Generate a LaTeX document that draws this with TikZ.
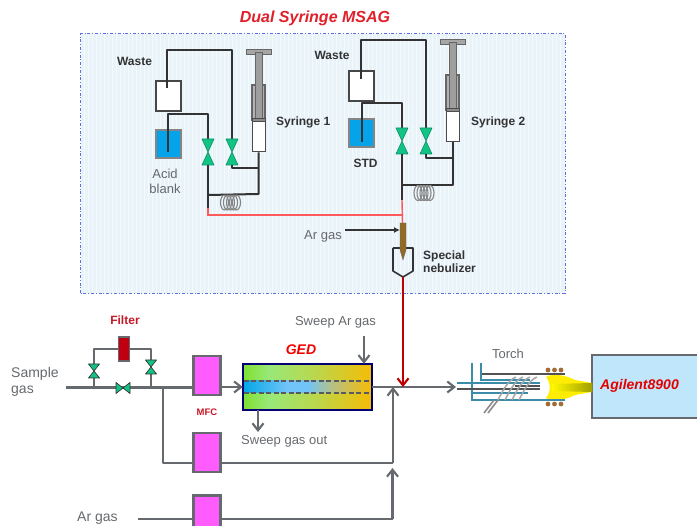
\documentclass[tikz,border=0pt]{standalone}
\usepackage{fontspec}
\setmainfont{Liberation Sans}
\usetikzlibrary{arrows.meta,calc}
\definecolor{tubeK}{HTML}{333333}
\definecolor{tubeG}{HTML}{666A6E}
\definecolor{valveG}{HTML}{12C483}
\definecolor{valveE}{HTML}{0E8F6A}
\definecolor{panelB}{HTML}{E8F3FA}
\definecolor{panelE}{HTML}{5C6FE6}
\definecolor{stdB}{HTML}{05A3EA}
\definecolor{mfcP}{HTML}{FF5CFF}
\definecolor{redT}{HTML}{E0202A}
\definecolor{darkR}{HTML}{C00010}
\definecolor{torchT}{HTML}{3A8CA8}
\definecolor{agB}{HTML}{BFE6FB}
\definecolor{gA}{HTML}{7FE030}
\definecolor{gB}{HTML}{98E878}
\definecolor{gC}{HTML}{B8D850}
\definecolor{gD}{HTML}{F5BC05}
\definecolor{cA}{HTML}{05A8E8}
\definecolor{cB}{HTML}{70C4F8}
\definecolor{cC}{HTML}{B8C080}
\pgfdeclarehorizontalshading{gedbody}{100bp}{color(0bp)=(gA); color(25bp)=(gA); color(35bp)=(gB); color(52bp)=(gC); color(75bp)=(gD); color(100bp)=(gD)}
\pgfdeclarehorizontalshading{gedchan}{100bp}{color(0bp)=(cA); color(25bp)=(cA); color(42bp)=(cB); color(50bp)=(cB); color(60bp)=(cC); color(75bp)=(gD); color(100bp)=(gD)}
\tikzset{
  tube/.style={draw=tubeK,line width=2pt,line join=round},
  gtube/.style={draw=tubeG,line width=2.1pt,line join=round},
  redline/.style={draw=red!65!white,line width=1.4pt},
  barb/.style={-{Straight Barb[length=7pt,width=11pt,line width=2.1pt]}},
  lbl/.style={font=\fontsize{12}{14}\selectfont\bfseries,text=black!80,inner sep=0pt},
  glbl/.style={font=\fontsize{13}{16}\selectfont,text=tubeG,inner sep=0pt},
  boxw/.style={draw=tubeK!90,line width=1.7pt,fill=white,minimum width=25pt,minimum height=30pt,inner sep=0pt},
  boxb/.style={draw=tubeK!60,line width=1.3pt,fill=stdB,minimum width=25pt,minimum height=28pt,inner sep=0pt},
  mfc/.style={draw=tubeG,line width=2.2pt,fill=mfcP,minimum width=27pt,minimum height=39pt,inner sep=0pt},
  valveport/.style={inner sep=0pt,minimum width=12pt,minimum height=26pt},
  valveportH/.style={inner sep=0pt,minimum width=13pt,minimum height=10pt},
  valveportS/.style={inner sep=0pt,minimum width=10pt,minimum height=14pt},
  pics/vvalve/.style={code={
    \draw[fill=valveG,draw=valveE,line width=.6pt,line join=round] (-6,-13)--(6,-13)--(0,0)--cycle (-6,13)--(6,13)--(0,0)--cycle;}},
  pics/svalve/.style={code={
    \draw[fill=valveG,draw=tubeK,line width=.7pt,line join=round] (-5.5,-7)--(5.5,-7)--(0,0)--cycle (-5.5,7)--(5.5,7)--(0,0)--cycle;}},
  pics/hvalve/.style={code={
    \draw[fill=valveG,draw=tubeK,line width=.7pt,line join=round] (-7,-5.5)--(-7,5.5)--(0,0)--cycle (7,-5.5)--(7,5.5)--(0,0)--cycle;}},
  pics/coil/.style={code={
    \foreach \r in {-6,-3,0,3,6}{\draw[tubeK!60,line width=1.1pt] (\r,0) ellipse (4 and 7.5);}
    }},
  pics/syringe/.style={code={
    \draw[fill=black!35,draw=black!60,line width=1pt] (-12.5,-2.5) rectangle (12.5,2.5);
    \draw[fill=black!30,draw=black!60,line width=1.1pt] (-6.5,33) rectangle (6.5,68);
    \draw[fill=black!38,draw=black!60,line width=.9pt] (-3.5,0) rectangle (3.5,68);
    \draw[fill=black!45,draw=black!70,line width=1pt] (-6.5,67) rectangle (6.5,70);
    }}
}
\begin{document}
\begin{tikzpicture}[x=1pt,y=-1pt]
\useasboundingbox (0,0) rectangle (697,526);
\clip (0,0) rectangle (697,526);
\fill[white] (0,0) rectangle (697,526);

% panel
\node[draw=none,fill=panelB,minimum width=484pt,minimum height=259pt,inner sep=0pt] (panel) at (323,163.5) {};
\foreach \x in {84,88,...,562}{\draw[white!60!panelB,line width=.5pt] (\x,35) -- (\x,292);}
\draw[panelE,line width=1.1pt,dash pattern=on 3pt off 1.8pt on 1pt off 1.8pt] (panel.south west) rectangle (panel.north east);
\node[font=\fontsize{16}{18}\selectfont\bfseries\itshape,text=redT,inner sep=0pt] (title) at (315,18) {Dual Syringe MSAG};

% --- left syringe group
\node[boxw] (w1) at (168.5,96) {};
\node[boxb] (b1) at (168.5,144) {};
\coordinate (w1in) at (167,88);
\coordinate (b1in) at (168,152);
\node[valveport] (v1a) at (208,152) {};
\node[valveport] (v1b) at (232,152) {};
\coordinate (j1a) at (208,195);
\coordinate (j1r) at (208,208);
\coordinate (j1c) at (208,215);
\draw[tube] (b1in) -- ++(0,-38) -| (v1a.north);
\draw[tube] (w1in) -- ++(0,-38) -| (v1b.north);
\pic at (v1a) {vvalve};
\pic at (v1b) {vvalve};
\node[draw=black!70,line width=1pt,fill=white,minimum width=13pt,minimum height=30pt,inner sep=0pt] (s1) at (258.5,137) {};
\pic at (258.5,52) {syringe};
\draw[tube] (s1.south) -- (258.5,194) -- (j1a);
\draw[tube] (v1b.south) |- (258.5,168);
\draw[tube] (v1a.south) -- (j1r);
\pic at (230.5,202.5) {coil};
\draw[redline] (j1r) -- (j1c) -- (402.5,215);

% --- right syringe group
\node[boxw] (w2) at (361.5,86) {};
\node[boxb] (b2) at (361.5,133) {};
\coordinate (w2in) at (361,79);
\coordinate (b2in) at (362,142);
\node[valveport] (v2a) at (402,141) {};
\node[valveport] (v2b) at (426,141) {};
\coordinate (j2a) at (402,185);
\coordinate (j2r) at (402,200);
\coordinate (nebtop) at (402.5,223);
\draw[tube] (b2in) -- ++(0,-39) -| (v2a.north);
\draw[tube] (w2in) -- ++(0,-39) -| (v2b.north);
\pic at (v2a) {vvalve};
\pic at (v2b) {vvalve};
\node[draw=black!70,line width=1pt,fill=white,minimum width=13pt,minimum height=30pt,inner sep=0pt] (s2) at (452.5,127) {};
\pic at (452.5,42) {syringe};
\draw[tube] (s2.south) -- (452.5,185) -- (j2a);
\draw[tube] (v2b.south) |- (452.5,158);
\draw[tube] (v2a.south) -- (j2r);
\pic at (424,193) {coil};
\draw[redline] (j2r) -- (nebtop);

% nebulizer
\node[glbl,anchor=east] (argas) at (342,236.5) {Ar gas};
\coordinate (argasS) at (345,230);
\draw[tube,line width=1.6pt] (393,248) -- (393,271) -- (403,277) -- (413,271) -- (413,248) -- (393,248);
\fill[fill=brown!70!black!90!yellow,draw=black!60,line width=.3pt] (400,223) -- (406,223) -- (406,250) -- (403,260) -- (400,250) -- cycle;
\coordinate (nebin) at (400,230);
\draw[tube,line width=1.5pt,-{Latex[length=6pt,width=6pt]}] (argasS) -- (nebin);
\coordinate (nebout) at (403,277);
\coordinate (mainR) at (403,387);

% labels upper
\node[lbl] (wl1) at (134.5,61) {Waste};
\node[lbl,anchor=west] (sl1) at (276,122) {Syringe 1};
\node[glbl,align=center,font=\fontsize{13}{15}\selectfont] (al) at (165,181) {Acid\\blank};
\node[lbl] (wl2) at (332,55) {Waste};
\node[lbl,anchor=west] (sl2) at (471,122) {Syringe 2};
\node[lbl] (stdl) at (365.5,163) {STD};
\node[lbl,anchor=west,align=left,font=\fontsize{12}{13.5}\selectfont\bfseries] (nl) at (423,261.5) {Special\\nebulizer};

% --- lower flow
\node[glbl,anchor=west,align=left,font=\fontsize{14}{16}\selectfont] (sg) at (11,382) {Sample\\gas};
\node[mfc] (m1) at (207,375.5) {};
\node[mfc] (m2) at (207,452.5) {};
\node[mfc] (m3) at (207,515) {};
\coordinate (sgS) at (66,387.5);
\coordinate (j0) at (163,387.5);
\coordinate (jl) at (94,387.5);
\coordinate (jr) at (151,387.5);
\node[valveportS] (fa) at (94,371) {};
\node[valveportS] (fb) at (151,367) {};
\node[valveportH] (fc) at (123,388) {};
\node[draw=tubeG,line width=1.7pt,fill=darkR,minimum width=11pt,minimum height=24pt,inner sep=0pt] (filter) at (124,349) {};
\draw[gtube] (sgS) -- (m1.west |- sgS);
\draw[gtube] (jl) -- (fa.south);
\draw[gtube] (fa.north) |- (filter.west);
\draw[gtube] (filter.east) -| (fb.north);
\draw[gtube] (fb.south) -- (jr);
\draw[gtube] (j0) |- (m2.west |- 0,463);
\pic at (fa) {svalve};
\pic at (fb) {svalve};
\pic at (fc) {hvalve};
\node[font=\fontsize{12}{14}\selectfont\bfseries,text=darkR!90!white,inner sep=0pt] (fl) at (125,320) {Filter};
\node[font=\fontsize{9.5}{11}\selectfont\bfseries,text=darkR!90!white,inner sep=0pt] (ml) at (207,412) {MFC};
\node[glbl,anchor=west,font=\fontsize{14}{16}\selectfont] (ar2) at (77,518) {Ar gas};
\coordinate (ar2S) at (138,519);
\draw[gtube] (ar2S) -- (m3.west |- ar2S);

% GED
\node[minimum width=129pt,minimum height=46pt,inner sep=0pt,shading=gedbody,shading angle=0] (ged) at (307.5,387) {};
\node[minimum width=127pt,minimum height=12pt,inner sep=0pt,shading=gedchan,shading angle=0] (gedc) at (307.5,387) {};
\draw[draw=blue!45!black,line width=1.6pt] (ged.south west) rectangle (ged.north east);
\draw[tubeG!85!black,line width=1.6pt,dash pattern=on 5pt off 2.5pt] (gedc.north west) -- (gedc.north east);
\draw[tubeG!85!black,line width=1.6pt,dash pattern=on 5pt off 2.5pt] (gedc.south west) -- (gedc.south east);
\node[font=\fontsize{14}{16}\selectfont\bfseries\itshape,text=red!95!black,inner sep=0pt] (gl) at (301,350) {GED};
\node[glbl] (swl) at (335.5,322.5) {Sweep Ar gas};
\node[glbl,anchor=west] (sol) at (241,441.5) {Sweep gas out};
\coordinate (swS) at (364,336);
\coordinate (soE) at (258,432);
\draw[gtube,barb] (swS) -- (swS |- ged.north);
\draw[gtube,barb] (soE |- ged.south) -- (soE);
\draw[gtube,barb] (m1.east |- gedc) -- (ged.west);
\coordinate (tin) at (456,387);
\draw[gtube,barb] (ged.east) -- (tin);
\coordinate (mj) at (393,387);
\coordinate (mj2) at (393,463);
\coordinate (mj3) at (392.5,468);
\draw[gtube] (m2.east |- mj2) -- (mj2);
\draw[gtube,barb] (mj2) -- (mj);
\draw[gtube] (m3.east |- 0,519) -- (392.5,519);
\draw[gtube,barb] (392.5,519) -- (mj3);
\draw[draw=red!75!black,line width=2.1pt,-{Straight Barb[length=7pt,width=11pt,line width=2.1pt]}] (nebout) -- (mainR);

% Torch
\node[glbl] (tl) at (508,354) {Torch};
\node[draw=tubeG,line width=2.2pt,fill=agB,minimum width=118pt,minimum height=63pt,inner sep=0pt] (ag) at (651,386.5) {};
\node[font=\fontsize{14}{16}\selectfont\bfseries\itshape,text=red!90!black,inner sep=0pt,anchor=west] (agl) at (600,386) {Agilent8900};
% flame
\fill[yellow!95!orange] (546,377) .. controls (552,373) and (566,375) .. (575,380) -- (592,383) -- (592,392) -- (575,395) .. controls (566,400) and (552,402) .. (546,398) .. controls (551,392) and (551,383) .. (546,377) -- cycle;
\shade[left color=yellow!95!orange,right color=olive!75!yellow] (552,384) -- (592,383) -- (592,392) -- (552,391) -- cycle;
% torch tubes
\begin{scope}[line width=1.4pt]
\draw[torchT] (472,363) -- (472,400) -- (565,400);
\draw[torchT] (481,363) -- (481,380) -- (530,380);
\draw[tubeK!85] (482,374) -- (565,374);
\draw[torchT] (457,383) -- (540,383);
\draw[tubeK!85] (457,389) -- (540,389);
\draw[tubeK!85] (515,386) -- (540,386);
\draw[torchT] (473,393) -- (528,393);
\draw[black!45,line width=1.6pt] (484,413) -- (494,400);
\draw[black!45,line width=1.6pt] (488,413) -- (498,400);
\foreach \x in {0,7,14,21}{\draw[black!35,line width=1.5pt] (498+\x,400) .. controls (502+\x,392) and (508+\x,380) .. (516+\x,377);}
\end{scope}
\foreach \x in {548,554.5,561}{
  \fill[brown!85!black] (\x,370) circle (2.4);
  \fill[brown!85!black] (\x,404) circle (2.4);
}
\end{tikzpicture}
\end{document}
